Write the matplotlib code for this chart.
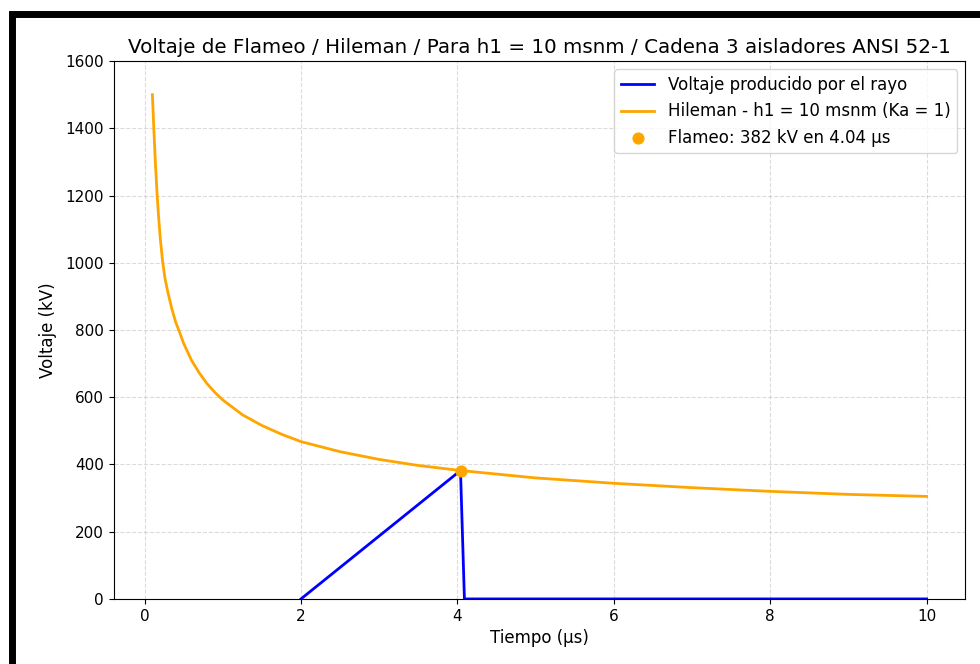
import matplotlib
matplotlib.use("Agg")
import matplotlib.pyplot as plt
from matplotlib.lines import Line2D

# curva Hileman (t en us, V en kV)
t_hileman = [0.10, 0.11, 0.12, 0.13, 0.14, 0.16, 0.18, 0.20, 0.23, 0.26,
             0.30, 0.35, 0.40, 0.45, 0.50, 0.60, 0.70, 0.80, 0.90, 1.00,
             1.25, 1.50, 1.75, 2.00, 2.50, 3.00, 3.50, 4.04, 5.00, 6.00,
             7.00, 8.00, 9.00, 10.00]
v_hileman = [1500, 1445, 1390, 1340, 1290, 1205, 1135, 1075, 1005, 955,
             910, 862, 822, 792, 760, 710, 672, 640, 614, 592,
             548, 516, 490, 468, 438, 415, 397, 382, 360, 344,
             331, 320, 311, 305]

# voltaje producido por el rayo
t_rayo = [2.0, 4.04, 4.09, 10.0]
v_rayo = [0, 382, 0, 0]

t_flameo = 4.04
v_flameo = 382

titulo = "Voltaje de Flameo / Hileman / Para h1 = 10 msnm / Cadena 3 aisladores ANSI 52-1"

fig = plt.figure(figsize=(9.8, 6.64), dpi=100)
ax = fig.add_axes([0.116, 0.098, 0.869, 0.81])

ax.plot(t_rayo, v_rayo, color="blue", lw=2, label="Voltaje producido por el rayo")
ax.plot(t_hileman, v_hileman, color="orange", lw=2, label="Hileman - h1 = 10 msnm (Ka = 1)")
ax.scatter([t_flameo], [v_flameo], color="orange", s=60, zorder=5,
           label=f"Flameo: {v_flameo} kV en {t_flameo:.2f} µs")

ax.set_ylim(0, 1600)
ax.set_title(titulo, fontsize=14.3)
ax.set_xlabel("Tiempo (µs)", fontsize=12)
ax.set_ylabel("Voltaje (kV)", fontsize=12, labelpad=6)
ax.tick_params(labelsize=11)
ax.grid(True, linestyle="--", alpha=0.45)
ax.legend(loc="upper right", fontsize=12)

# marco negro de la captura
y_top = 1 - 14 / 664
x_left = 12 / 980
fig.add_artist(Line2D([x_left, x_left, 1.05], [-0.05, y_top, y_top],
                      transform=fig.transFigure, color="black", lw=5,
                      solid_joinstyle="miter"))

fig.savefig("out.png", dpi=100)
